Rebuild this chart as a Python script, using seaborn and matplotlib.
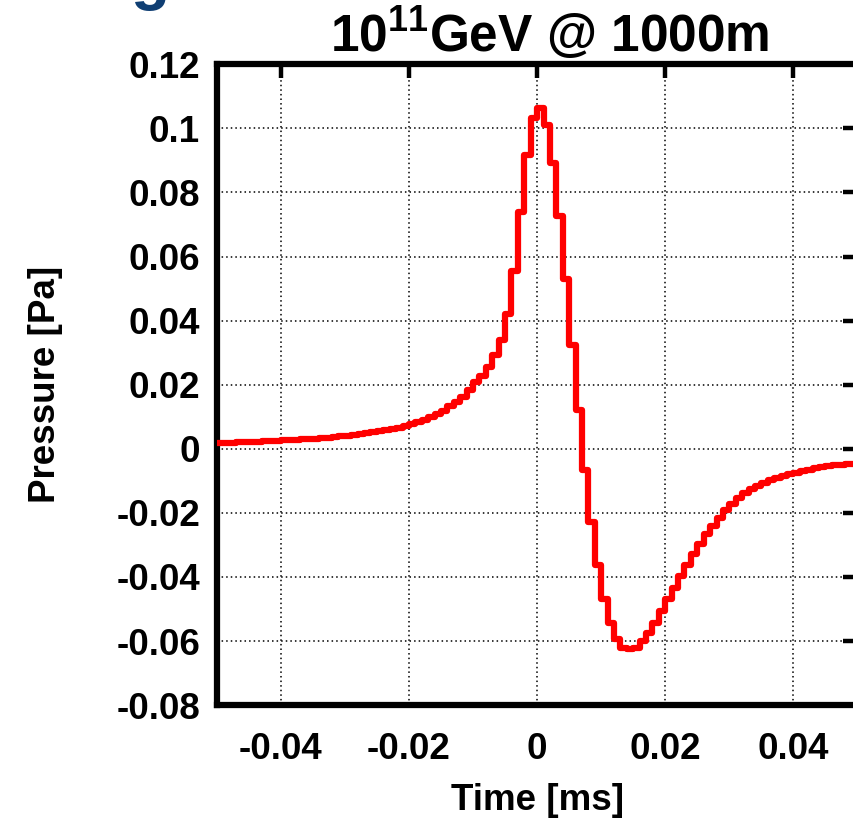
import matplotlib
matplotlib.use("Agg")
import matplotlib.pyplot as plt
import numpy as np
import pandas as pd
import seaborn as sns

# ---------------- data ----------------
title_main = "10"
title_sup = "11"
title_rest = "GeV @ 1000m"
x_label = "Time [ms]"
y_label = "Pressure [Pa]"

# bin edges of the stepped trace (ms)
time_edges_ms = [
    -0.050, -0.049, -0.048, -0.047, -0.046, -0.045, -0.044, -0.043, -0.042, -0.041,
    -0.040, -0.039, -0.038, -0.037, -0.036, -0.035, -0.034, -0.033, -0.032, -0.031,
    -0.030, -0.029, -0.028, -0.027, -0.026, -0.025, -0.024, -0.023, -0.022, -0.021,
    -0.020, -0.019, -0.018, -0.017, -0.016, -0.015, -0.014, -0.013, -0.012, -0.011,
    -0.010, -0.009, -0.008, -0.007, -0.006, -0.005, -0.004, -0.003, -0.002, -0.001,
    0.000, 0.001, 0.002, 0.003, 0.004, 0.005, 0.006, 0.007, 0.008, 0.009,
    0.010, 0.011, 0.012, 0.013, 0.014, 0.015, 0.016, 0.017, 0.018, 0.019,
    0.020, 0.021, 0.022, 0.023, 0.024, 0.025, 0.026, 0.027, 0.028, 0.029,
    0.030, 0.031, 0.032, 0.033, 0.034, 0.035, 0.036, 0.037, 0.038, 0.039,
    0.040, 0.041, 0.042, 0.043, 0.044, 0.045, 0.046, 0.047, 0.048, 0.049,
    0.050,
]

# pressure in each bin (Pa)
pressure_pa = [
    0.0018, 0.0019, 0.0019, 0.0020, 0.0021, 0.0022, 0.0022, 0.0023, 0.0024, 0.0025,
    0.0026, 0.0027, 0.0028, 0.0030, 0.0031, 0.0032, 0.0034, 0.0035, 0.0037, 0.0039,
    0.0041, 0.0043, 0.0045, 0.0048, 0.0051, 0.0054, 0.0058, 0.0062, 0.0066, 0.0071,
    0.0077, 0.0083, 0.0090, 0.0098, 0.0108, 0.0119, 0.0132, 0.0146, 0.0163, 0.0185,
    0.0207, 0.0226, 0.0255, 0.0292, 0.0339, 0.0420, 0.0554, 0.0739, 0.0916, 0.1033,
    0.1062, 0.1011, 0.0893, 0.0726, 0.0529, 0.0323, 0.0120, -0.0067, -0.0228, -0.0364,
    -0.0468, -0.0543, -0.0593, -0.0620, -0.0625, -0.0622, -0.0600, -0.0574, -0.0543, -0.0507,
    -0.0470, -0.0433, -0.0397, -0.0363, -0.0328, -0.0296, -0.0266, -0.0240, -0.0215, -0.0192,
    -0.0172, -0.0154, -0.0139, -0.0126, -0.0115, -0.0106, -0.0098, -0.0091, -0.0085, -0.0079,
    -0.0074, -0.0069, -0.0065, -0.0061, -0.0058, -0.0055, -0.0052, -0.0050, -0.0048, -0.0046,
]

x_ticks = [-0.04, -0.02, 0.0, 0.02, 0.04]
x_tick_labels = ["-0.04", "-0.02", "0", "0.02", "0.04"]
y_ticks = [-0.08, -0.06, -0.04, -0.02, 0.0, 0.02, 0.04, 0.06, 0.08, 0.1, 0.12]
y_tick_labels = ["-0.08", "-0.06", "-0.04", "-0.02", "0", "0.02", "0.04",
                 "0.06", "0.08", "0.1", "0.12"]
x_range = (-0.05, 0.05)
y_range = (-0.08, 0.12)

# ---------------- styling ----------------
sns.set_theme(style="white")
plt.rcParams["font.family"] = ["Liberation Sans", "DejaVu Sans"]
plt.rcParams["font.weight"] = "bold"
plt.rcParams["mathtext.fontset"] = "custom"
plt.rcParams["mathtext.rm"] = "Liberation Sans:bold"
plt.rcParams["mathtext.bf"] = "Liberation Sans:bold"
plt.rcParams["mathtext.default"] = "bf"

W, H = 854, 818
fig = plt.figure(figsize=(W / 100, H / 100), dpi=100)
fig.patch.set_facecolor("white")

left_px, right_px, top_px, bottom_px = 216.7, 857.5, 64.2, 705.2
ax = fig.add_axes([left_px / W, (H - bottom_px) / H,
                   (right_px - left_px) / W, (bottom_px - top_px) / H])
ax.set_facecolor("white")

df = pd.DataFrame({
    "time": time_edges_ms,
    "pressure": pressure_pa + [pressure_pa[-1]],
})
sns.lineplot(data=df, x="time", y="pressure", ax=ax, drawstyle="steps-post",
             color="#ff0000", linewidth=4.5, estimator=None, sort=False,
             zorder=3)

ax.set_xlim(*x_range)
ax.set_ylim(*y_range)
ax.set_xticks(x_ticks)
ax.set_xticklabels(x_tick_labels)
ax.set_yticks(y_ticks)
ax.set_yticklabels(y_tick_labels)

ax.grid(True, color="black", linestyle=(0, (1, 2)), linewidth=1.1)
ax.set_axisbelow(True)

for s in ax.spines.values():
    s.set_visible(True)
    s.set_color("black")
    s.set_linewidth(4.5)

ax.tick_params(axis="both", direction="in", length=10, width=3.2,
               color="black", top=True, right=True, labelsize=26.5,
               labelcolor="black")
ax.tick_params(axis="y", pad=12)
ax.tick_params(axis="x", pad=19)
for lab in ax.get_xticklabels() + ax.get_yticklabels():
    lab.set_fontweight("bold")

ax.set_xlabel(x_label, fontsize=26.5, fontweight="bold", color="black", labelpad=12)
ax.set_ylabel(y_label, fontsize=26.5, fontweight="bold", color="black", labelpad=38)

fig.text(550 / W, 1 - 34 / H, f"{title_main}$^{{{title_sup}}}${title_rest}",
         ha="center", va="center", fontsize=37, fontweight="bold", color="black")

# fragment of a slide heading cut off at the top-left corner
fig.text(150 / W, 1 + 2 / H, "g", ha="center", va="baseline", fontsize=46,
         fontweight="bold", color="#0f3e73")

fig.savefig("out.png", dpi=100, facecolor="white")
